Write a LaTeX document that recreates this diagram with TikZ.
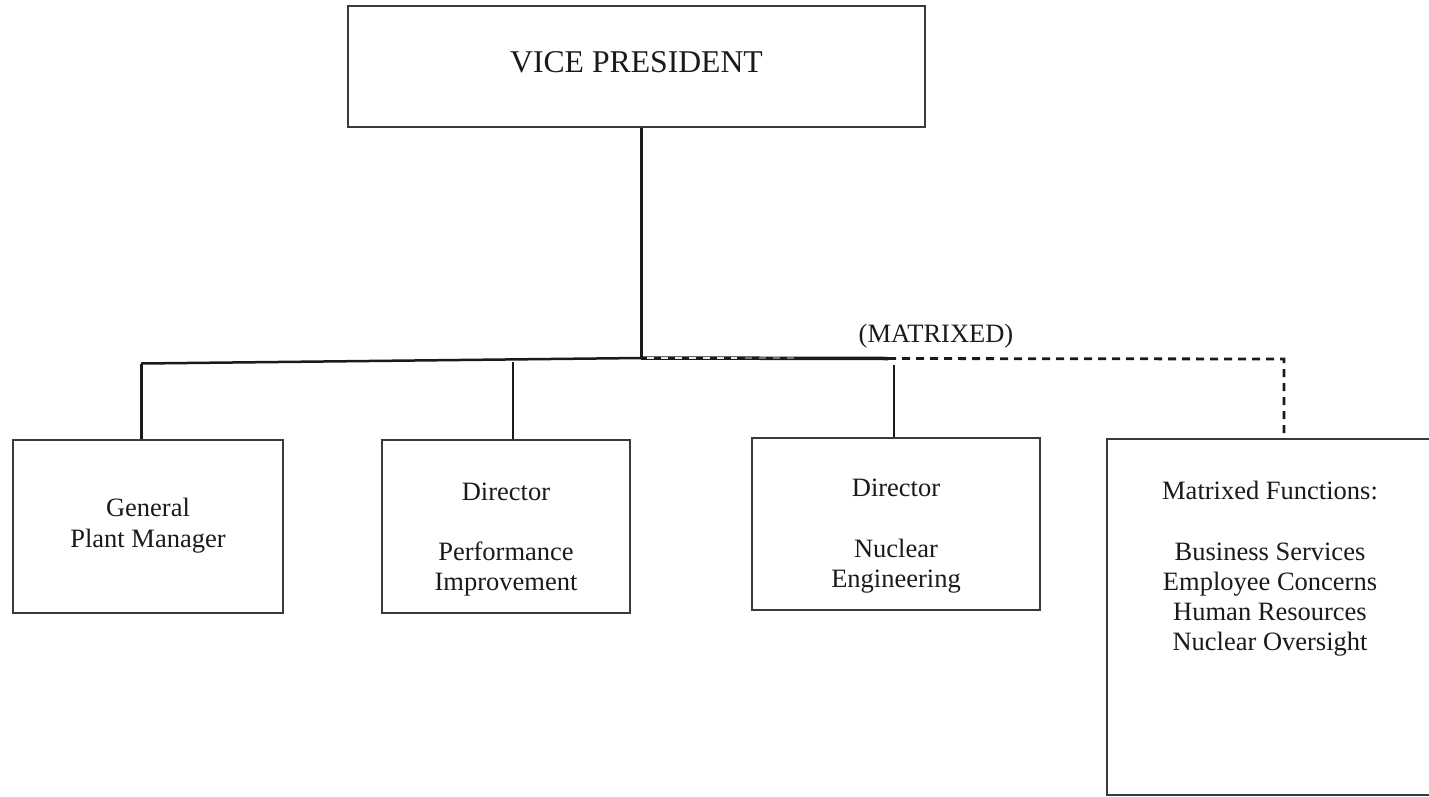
\documentclass[tikz,border=0pt]{standalone}
\usepackage{fontspec}
\setmainfont{Liberation Serif}
\definecolor{ink}{HTML}{1A1A1A}
\definecolor{boxgray}{HTML}{3A3A3A}
\begin{document}
\begin{tikzpicture}[x=1pt,y=-1pt,
  box/.style={draw=boxgray,line width=1.2pt,rectangle,inner sep=0pt,fill=white},
  lbl/.style={anchor=base,inner sep=0pt,text=ink,font=\fontsize{26.5}{30.5}\selectfont},
  biglbl/.style={anchor=base,inner sep=0pt,text=ink,font=\fontsize{31.7}{36}\selectfont},
  conn/.style={draw=ink,line width=2.3pt},
  dashconn/.style={draw=ink,line width=2.8pt,dash pattern=on 8pt off 6pt}]
\useasboundingbox[fill=white] (0,0) rectangle (1429,796);

% boxes
\node[box,minimum width=577pt,minimum height=121pt] (vp)  at (636.5,66.5) {};
\node[box,minimum width=270pt,minimum height=173pt] (gpm) at (148,526.5) {};
\node[box,minimum width=248pt,minimum height=173pt] (dpi) at (506,526.5) {};
\node[box,minimum width=288pt,minimum height=172pt] (dne) at (896,524) {};
\node[box,minimum width=380pt,minimum height=356pt] (mf)  at (1297,617) {};

% box texts
\node[biglbl] (vpt) at (636.5,72) {VICE PRESIDENT};
\node[lbl] (gpm1) at (148,516) {General};
\node[lbl] (gpm2) at (148,547) {Plant Manager};
\node[lbl] (dpi1) at (506,500) {Director};
\node[lbl] (dpi2) at (506,560) {Performance};
\node[lbl] (dpi3) at (506,590) {Improvement};
\node[lbl] (dne1) at (896,496) {Director};
\node[lbl] (dne2) at (896,557) {Nuclear};
\node[lbl] (dne3) at (896,587) {Engineering};
\node[lbl] (mf1) at (1270,499) {Matrixed Functions:};
\node[lbl] (mf2) at (1270,560) {Business Services};
\node[lbl] (mf3) at (1270,590) {Employee Concerns};
\node[lbl] (mf4) at (1270,620) {Human Resources};
\node[lbl] (mf5) at (1270,650) {Nuclear Oversight};
\node[lbl] (matx) at (936,342) {(MATRIXED)};

% bus points
\coordinate (busL) at (141,363.5);
\coordinate (busC) at (641,358);
\coordinate (busR) at (888,358.5);
\coordinate (tapB) at (513,361.5);
\coordinate (tapC) at (894,365);
\coordinate (dashCorner) at (1284,359);

% solid reporting lines
\draw[conn,line width=3pt] (busC |- vp.south) -- (busC);
\draw[conn,line width=2.5pt] (busL) -- (busC);
\draw[conn,line width=3.5pt] (busC) -- (busR);
\draw[conn,line width=3pt] (busL) -- (busL |- gpm.north);
\draw[conn,line width=2.5pt] (tapB) -- (tapB |- dpi.north);
\draw[conn,line width=1.8pt] (tapC) -- (tapC |- dne.north);

% matrixed (dashed) line
\draw[draw=white,line width=1.2pt,dash pattern=on 7pt off 7pt,opacity=0.9] ([xshift=6pt]busC) -- ++(90,0);
\draw[draw=white,line width=1.2pt,dash pattern=on 7pt off 7pt,opacity=0.4] ([xshift=104pt]busC) -- ++(50,0);
\draw[dashconn] (busR) -- (dashCorner) -- (dashCorner |- mf.north);
\end{tikzpicture}
\end{document}
